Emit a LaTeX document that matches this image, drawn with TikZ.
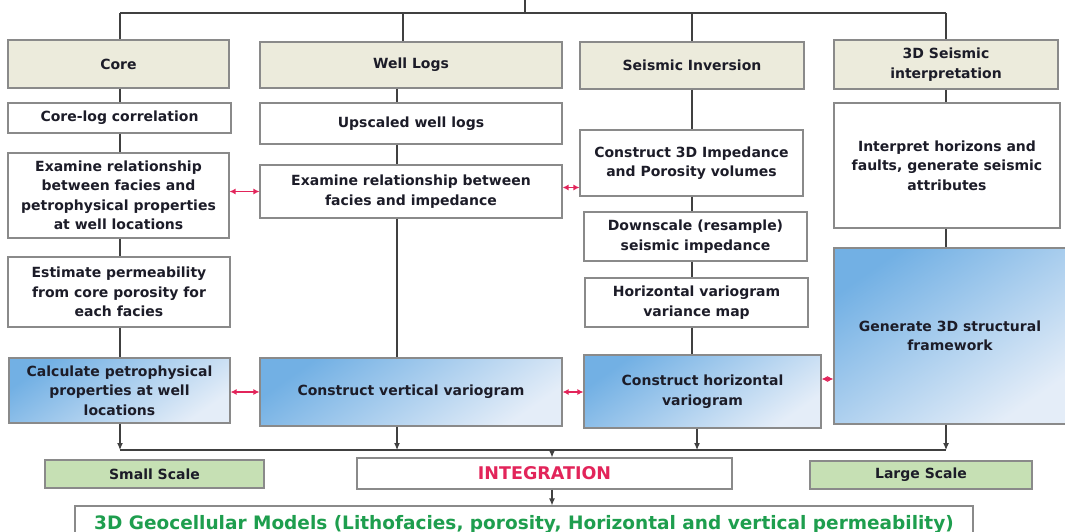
\documentclass[tikz,border=0pt]{standalone}
\usepackage{fontspec}
\setmainfont{DejaVu Sans}
\usetikzlibrary{arrows.meta}

\definecolor{headfill}{HTML}{ECEBDC}
\definecolor{boxline}{HTML}{8A8A8A}
\definecolor{blueA}{HTML}{72B0E4}
\definecolor{blueB}{HTML}{E4EDF8}
\definecolor{scalefill}{HTML}{C6E0B4}
\definecolor{linkred}{HTML}{E2245A}
\definecolor{geogreen}{HTML}{1E9E4E}
\definecolor{inktext}{HTML}{1C1C28}

\tikzset{
  wh/.style 2 args={minimum width=#1pt, minimum height=#2pt},
  flowbox/.style={draw=boxline, line width=1.1pt, inner sep=0pt, align=center,
    font=\bfseries\fontsize{14}{19.5}\selectfont, text=inktext},
  headbox/.style={flowbox, fill=headfill},
  taskbox/.style={flowbox, fill=white},
  bluebox/.style={flowbox, top color=blueA, bottom color=blueB, shading angle=35},
  scalebox/.style={flowbox, fill=scalefill},
  link/.style={linkred, line width=1.3pt, {Latex[length=6pt,width=6pt]}-{Latex[length=6pt,width=6pt]}},
  flow/.style={draw=black!75, line width=1.1pt},
  flowarrow/.style={flow, -{Latex[length=7pt,width=6pt]}}
}

\begin{document}
\begin{tikzpicture}[x=1pt,y=-1pt]
\useasboundingbox (0,0) rectangle (1065,532);

\node[headbox, wh={221}{48}] (core) at (118.5,64) {Core};
\node[headbox, wh={302}{46}] (logs) at (411,65) {Well Logs};
\node[headbox, wh={224}{47}] (inv)  at (692,65.5) {Seismic Inversion};
\node[headbox, wh={224}{49}] (seis) at (946,64.5) {3D Seismic\\interpretation};

\node[taskbox, wh={223}{30}] (corelog) at (119.5,118) {Core-log correlation};
\node[taskbox, wh={221}{85}] (exfac)   at (118.5,195.5) {Examine relationship\\between facies and\\petrophysical properties\\at well locations};
\node[taskbox, wh={222}{70}] (estperm) at (119,292) {Estimate permeability\\from core porosity for\\each facies};
\node[bluebox, wh={221}{65}] (calcpet) at (119.5,390.5) {Calculate petrophysical\\properties at well\\locations};

\node[taskbox, wh={302}{41}] (upscaled) at (411,123.5) {Upscaled well logs};
\node[taskbox, wh={302}{53}] (exfacimp) at (411,191.5) {Examine relationship between\\facies and impedance};
\node[bluebox, wh={302}{68}] (vertvar)  at (411,392) {Construct vertical variogram};

\node[taskbox, wh={223}{66}] (cons3d) at (691.5,163) {Construct 3D Impedance\\and Porosity volumes};
\node[taskbox, wh={223}{49}] (downsc) at (695.5,236.5) {Downscale (resample)\\seismic impedance};
\node[taskbox, wh={223}{49}] (hvmap)  at (696.5,302.5) {Horizontal variogram\\variance map};
\node[bluebox, wh={237}{73}] (horvar) at (702.5,391.5) {Construct horizontal\\variogram};

\node[taskbox, wh={226}{125}] (interp) at (947,165.5) {Interpret horizons and\\faults, generate seismic\\attributes};
\node[bluebox, wh={232}{176}] (gen3d)  at (950,336) {Generate 3D structural\\framework};

\node[scalebox, wh={219}{28}] (small) at (154.5,474) {Small Scale};
\node[taskbox, wh={375}{31}, text=linkred, font=\bfseries\fontsize{17.5}{20}\selectfont] (integ) at (544.5,473.5) {INTEGRATION};
\node[scalebox, wh={222}{28}] (large) at (921,475) {Large Scale};
\node[taskbox, wh={898}{36}, text=geogreen, font=\bfseries\fontsize{18.5}{22}\selectfont] (geo) at (524,524) {3D Geocellular Models (Lithofacies, porosity, Horizontal and vertical permeability)};

\coordinate (top) at (525,0);
\coordinate (c1) at (120,13);
\coordinate (c2) at (403,13);
\coordinate (d2) at (397,13);
\coordinate (c3) at (692,13);
\coordinate (d3) at (697,13);
\coordinate (c4) at (946,13);
\coordinate (m1) at (120,450);
\coordinate (mi) at (552,450);
\coordinate (m4) at (946,450);

\draw[flow] (c1) -- (c4);
\draw[flow] (top) -- (top |- c1);
\draw[flow] (c1) -- (c1 |- core.north);
\draw[flow] (c2) -- (c2 |- logs.north);
\draw[flow] (c3) -- (c3 |- inv.north);
\draw[flow] (c4) -- (c4 |- seis.north);

\draw[flow] (core.south -| c1) -- (corelog.north -| c1);
\draw[flow] (corelog.south -| c1) -- (exfac.north -| c1);
\draw[flow] (exfac.south -| c1) -- (estperm.north -| c1);
\draw[flow] (estperm.south -| c1) -- (calcpet.north -| c1);

\draw[flow] (logs.south -| d2) -- (upscaled.north -| d2);
\draw[flow] (upscaled.south -| d2) -- (exfacimp.north -| d2);
\draw[flow] (exfacimp.south -| d2) -- (vertvar.north -| d2);

\draw[flow] (inv.south -| c3) -- (cons3d.north -| c3);
\draw[flow] (cons3d.south -| c3) -- (downsc.north -| c3);
\draw[flow] (downsc.south -| c3) -- (hvmap.north -| c3);
\draw[flow] (hvmap.south -| c3) -- (horvar.north -| c3);

\draw[flow] (seis.south -| c4) -- (interp.north -| c4);
\draw[flow] (interp.south -| c4) -- (gen3d.north -| c4);

\draw[link] (exfacimp.west -| exfac.east) -- (exfacimp.west);
\draw[link] ([yshift=4pt]exfacimp.east) -- ([yshift=4pt]exfacimp.east -| cons3d.west);
\draw[link] (vertvar.west -| calcpet.east) -- (vertvar.west);
\draw[link] (vertvar.east) -- (vertvar.east -| horvar.west);
\draw[link] ([yshift=12.5pt]horvar.east) -- ([yshift=12.5pt]horvar.east -| gen3d.west);

\draw[flowarrow] (calcpet.south -| m1) -- (m1);
\draw[flowarrow] (vertvar.south -| d2) -- (d2 |- m1);
\draw[flowarrow] (horvar.south -| d3) -- (d3 |- m1);
\draw[flowarrow] (gen3d.south -| m4) -- (m4);
\draw[flow] (m1) -- (m4);
\draw[flowarrow] (mi) -- (mi |- integ.north);
\draw[flowarrow] (integ.south -| mi) -- (geo.north -| mi);
\end{tikzpicture}
\end{document}
